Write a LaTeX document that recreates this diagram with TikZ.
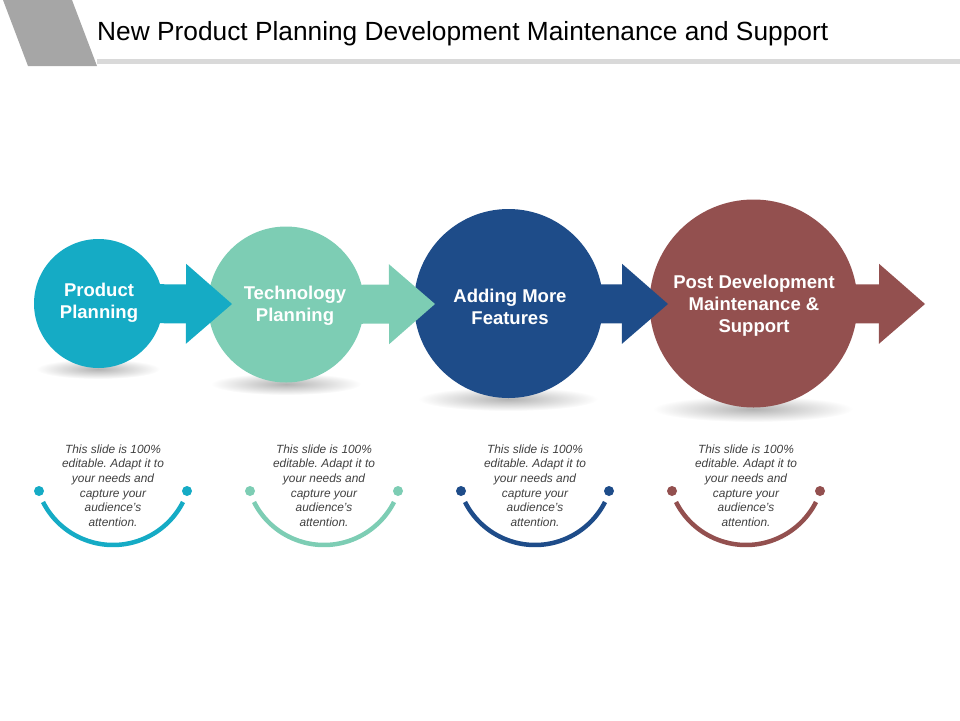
\documentclass[tikz,border=0pt]{standalone}
\usepackage{fontspec}
\setmainfont{Liberation Sans}
\usetikzlibrary{positioning, arrows.meta}

\definecolor{planteal}{HTML}{15ABC5}
\definecolor{plangreen}{HTML}{7DCDB4}
\definecolor{planblue}{HTML}{1E4C89}
\definecolor{planred}{HTML}{93504F}
\definecolor{titlegray}{HTML}{A6A6A6}
\definecolor{linegray}{HTML}{D9D9D9}
\definecolor{notegray}{HTML}{404040}

\frenchspacing

\begin{document}
\begin{tikzpicture}[
    x=1pt, y=-1pt,
    stage/.style={
      circle,
      fill=#1,
      inner sep=0pt
    },
    stagetext/.style={
      text=white,
      font=\fontsize{18.5}{22}\selectfont\bfseries,
      align=center,
      inner sep=0pt
    },
    flow/.style={
      draw=#1,
      line width=39pt,
      shorten <=-8pt,
      -{Triangle[length=46pt, width=80pt, line width=0pt]}
    },
    note/.style={
      text=notegray,
      font=\fontsize{11.9}{14.6}\selectfont\itshape,
      align=center,
      anchor=north,
      inner sep=0pt
    },
    dot/.style={circle, fill=#1, minimum size=10pt, inner sep=0pt},
    smile/.style={draw=#1, line width=4.5pt},
    shadow/.style={inner color=black!30, outer color=white}
  ]
  \useasboundingbox (0,0) rectangle (960,720);

  % title bar
  \fill[titlegray] (3,0) -- (72,0) -- (97,66) -- (28,66) -- cycle;
  \fill[linegray] (97,59) rectangle (960,64);
  \node[anchor=base west, inner sep=0pt, font=\fontsize{26.3}{30}\selectfont] (title) at (97,40.5)
    {New Product Planning Development Maintenance and Support};

  % shadows under the circles
  \shade[shadow] (98,369) ellipse [x radius=62, y radius=10];
  \shade[shadow] (286,384) ellipse [x radius=75, y radius=11];
  \shade[shadow] (508,399) ellipse [x radius=90, y radius=12];
  \shade[shadow] (753,409) ellipse [x radius=100, y radius=13];

  % stages
  \node[stage=planteal, minimum size=129pt] (product) at (98.5,303.5) {};
  \node[stage=plangreen, minimum size=156pt] (technology) at (286,304.5) {};
  \node[stage=planblue, minimum size=189pt] (features) at (508.5,303.5) {};
  \node[stage=planred, minimum size=208pt] (support) at (753.5,303.5) {};

  \coordinate (tip1) at (232,304);
  \coordinate (tip2) at (435,304);
  \coordinate (tip3) at (668,304);
  \coordinate (tip4) at (925,304);

  \path (product) edge[flow=planteal] (tip1)
        (technology) edge[flow=plangreen] (tip2)
        (features) edge[flow=planblue] (tip3)
        (support) edge[flow=planred] (tip4);

  \node[stagetext] (productlabel) at (99,303) {Product\\Planning};
  \node[stagetext] (technologylabel) at (295,306) {Technology\\Planning};
  \node[stagetext] (featureslabel) at (510,307) {Adding More\\Features};
  \node[stagetext] (supportlabel) at (754,306) {Post Development\\Maintenance \&\\Support};

  % notes with smiles
  \node[note] (productnote) at (113,444.5)
    {This slide is 100\%\\editable. Adapt it to\\your needs and\\capture your\\audience's\\attention.};
  \node[dot=planteal] (productleft) at (39,491) {};
  \node[dot=planteal] (productright) at (187,491) {};
  \coordinate (productarc) at (43,502);
  \draw[smile=planteal] (productarc) arc[start angle=153.1, end angle=26.9, radius=78.5];

  \node[note] (technologynote) at (324,444.5)
    {This slide is 100\%\\editable. Adapt it to\\your needs and\\capture your\\audience's\\attention.};
  \node[dot=plangreen] (technologyleft) at (250,491) {};
  \node[dot=plangreen] (technologyright) at (398,491) {};
  \coordinate (technologyarc) at (254,502);
  \draw[smile=plangreen] (technologyarc) arc[start angle=153.1, end angle=26.9, radius=78.5];

  \node[note] (featuresnote) at (535,444.5)
    {This slide is 100\%\\editable. Adapt it to\\your needs and\\capture your\\audience's\\attention.};
  \node[dot=planblue] (featuresleft) at (461,491) {};
  \node[dot=planblue] (featuresright) at (609,491) {};
  \coordinate (featuresarc) at (465,502);
  \draw[smile=planblue] (featuresarc) arc[start angle=153.1, end angle=26.9, radius=78.5];

  \node[note] (supportnote) at (746,444.5)
    {This slide is 100\%\\editable. Adapt it to\\your needs and\\capture your\\audience's\\attention.};
  \node[dot=planred] (supportleft) at (672,491) {};
  \node[dot=planred] (supportright) at (820,491) {};
  \coordinate (supportarc) at (676,502);
  \draw[smile=planred] (supportarc) arc[start angle=153.1, end angle=26.9, radius=78.5];
\end{tikzpicture}
\end{document}
